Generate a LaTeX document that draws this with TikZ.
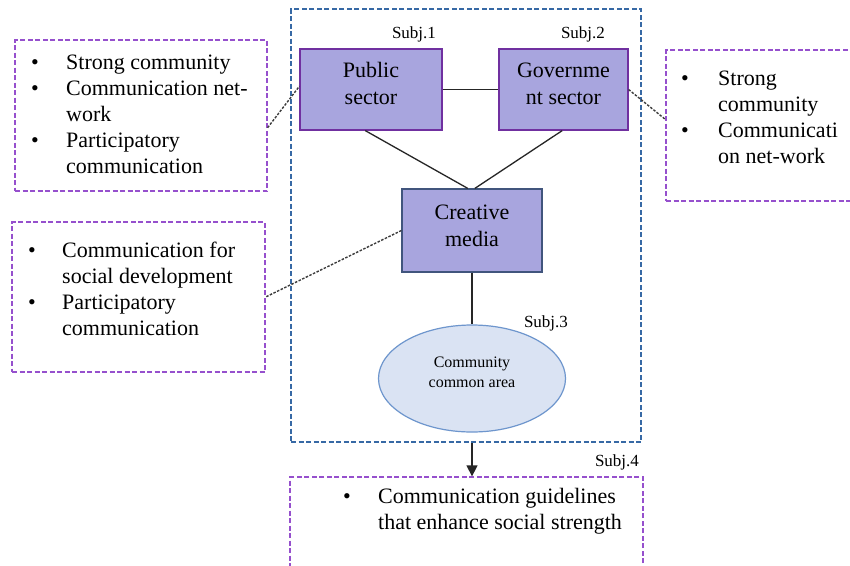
\documentclass[tikz,border=0pt]{standalone}
\usepackage{fontspec}
\setmainfont{Liberation Serif}
\usetikzlibrary{calc,arrows.meta,shapes.geometric}
\definecolor{purpline}{RGB}{150,80,205}
\definecolor{bluedash}{RGB}{55,105,165}
\definecolor{lav}{RGB}{168,165,222}
\definecolor{secborder}{RGB}{112,48,160}
\definecolor{creborder}{RGB}{65,85,125}
\definecolor{ellfill}{RGB}{218,227,243}
\definecolor{ellborder}{RGB}{110,150,205}
\definecolor{dotgray}{RGB}{60,60,60}
\newcommand\bl{\textbullet}
\tikzset{
  purplebox/.style={draw=purpline, line width=1.3pt, dash pattern=on 5pt off 2.5pt, rectangle, inner sep=0pt},
  bluebox/.style={draw=bluedash, line width=1.3pt, dash pattern=on 5pt off 2.5pt, rectangle, inner sep=0pt},
  sector/.style={draw=secborder, fill=lav, line width=1.2pt, rectangle, inner sep=0pt},
  bigtext/.style={font=\fontsize{22}{27}\selectfont, align=center, inner sep=0pt},
  subj/.style={font=\fontsize{17}{20}\selectfont, inner sep=0pt},
  listtext/.style={font=\fontsize{22}{26}\selectfont, anchor=base west, inner sep=0pt},
  link/.style={draw=black!85, line width=1.3pt},
  dotlink/.style={draw=dotgray, line width=1.4pt, dash pattern=on 2.5pt off 1.5pt},
}
\begin{document}
\begin{tikzpicture}[x=1pt,y=-1pt]
\clip (0,0) rectangle (850,565);
\fill[white] (0,0) rectangle (850,565);

% big blue dashed frame
\node[bluebox, minimum width=350pt, minimum height=433pt] (big) at (466,225.5) {};

% sector boxes
\node[sector, minimum width=142pt, minimum height=81pt] (pub) at (371,89.5) {};
\node[bigtext] (pubt) at (371,83.5) {Public\\sector};
\node[sector, minimum width=129pt, minimum height=81pt] (gov) at (563.5,89.5) {};
\node[bigtext] (govt) at (563.5,83.5) {Governme\\nt sector};
\node[sector, draw=creborder, minimum width=140pt, minimum height=83pt] (cre) at (472,230.5) {};
\node[bigtext] (cret) at (472,225.5) {Creative\\media};

% ellipse
\node[ellipse, draw=ellborder, fill=ellfill, line width=1.2pt, minimum width=187pt, minimum height=107pt, inner sep=0pt] (ell) at (472,378.5) {};
\node[font=\fontsize{16}{20}\selectfont, align=center, inner sep=0pt] (ellt) at (472,372) {Community\\common area};

% subject labels
\node[subj] (s1) at (414,34) {Subj.1};
\node[subj] (s2) at (583,34) {Subj.2};
\node[subj] (s3) at (546,323) {Subj.3};
\node[subj] (s4) at (617,462) {Subj.4};

% purple dashed boxes
\node[purplebox, minimum width=252pt, minimum height=151pt] (b1) at (141,115.5) {};
\node[purplebox, minimum width=253pt, minimum height=150pt] (b2) at (138.5,297) {};
\node[purplebox, minimum width=214pt, minimum height=151pt] (b3) at (773,125.5) {};
\node[purplebox, minimum width=353pt, minimum height=123pt] (b4) at (466.5,538.5) {};

% list texts
\node[listtext] (t1) at (31,69) {\begin{tabular}[t]{@{}p{35pt}@{}l@{}}\bl & Strong community\\ \bl & Communication net-\\ & work\\ \bl & Participatory\\ & communication\end{tabular}};
\node[listtext] (t2) at (28,257) {\begin{tabular}[t]{@{}p{34pt}@{}l@{}}\bl & Communication for\\ & social development\\ \bl & Participatory\\ & communication\end{tabular}};
\node[listtext] (t3) at (681,85) {\begin{tabular}[t]{@{}p{37pt}@{}l@{}}\bl & Strong\\ & community\\ \bl & Communicati\\ & on net-work\end{tabular}};
\node[listtext] (t4) at (343,503) {\begin{tabular}[t]{@{}p{35pt}@{}l@{}}\bl & Communication guidelines\\ & that enhance social strength\end{tabular}};

% solid connectors
\draw[link] (pub.east) -- (gov.west);
\draw[link] ($(pub.south west)!0.46!(pub.south east)$) -- ($(cre.north west)!0.47!(cre.north east)$);
\draw[link] ($(gov.south west)!0.49!(gov.south east)$) -- ($(cre.north west)!0.52!(cre.north east)$);
\draw[link] (cre.south) -- (ell.north);
\draw[link, -{Triangle[length=11pt,width=11pt]}] (big.south -| ell.south) -- (b4.north -| ell.south);

% dotted connectors
\draw[dotlink] ($(b1.north east)!0.58!(b1.south east)$) -- ($(pub.north west)!0.46!(pub.south west)$);
\draw[dotlink] (gov.east) -- ($(b3.north west)!0.46!(b3.south west)$);
\draw[dotlink] (cre.west) -- (b2.east);
\end{tikzpicture}
\end{document}
